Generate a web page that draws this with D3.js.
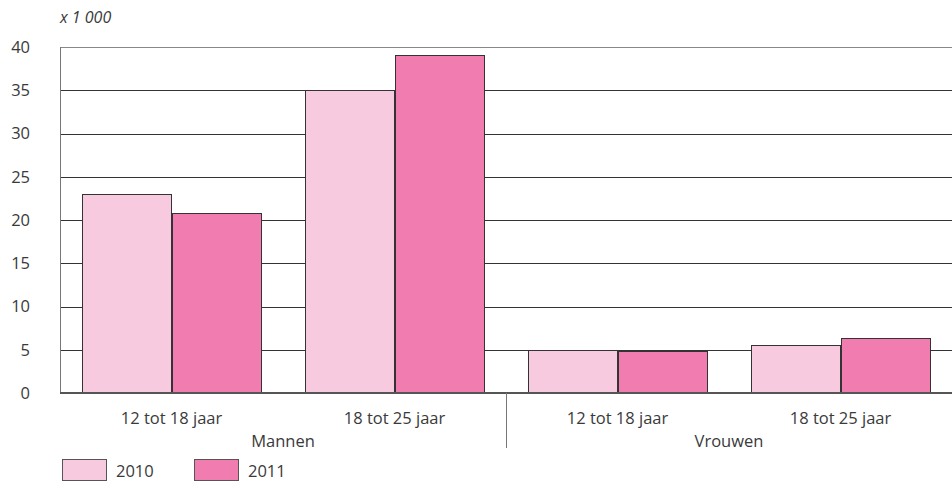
<!DOCTYPE html>
<html>
<head>
<meta charset="utf-8">
<script src="https://cdn.jsdelivr.net/npm/d3@7"></script>
<style>
  body { margin: 0; background: #fff; }
  svg { display: block; font-family: "Open Sans", "Noto Sans", sans-serif; }
</style>
</head>
<body>
<svg id="chart" width="952" height="483"></svg>
<script>
// Jongeren (x 1 000) per leeftijdsgroep en geslacht
const groups = ["Mannen", "Vrouwen"];
const ageClasses = ["12 tot 18 jaar", "18 tot 25 jaar"];
const years = ["2010", "2011"];
const values2010 = [23.0, 35.0, 5.0, 5.6];
const values2011 = [20.8, 39.1, 4.8, 6.4];
const yTicks = [0, 5, 10, 15, 20, 25, 30, 35, 40];
const colors = ["#f8cadf", "#f07cb0"];

const FS = 16.5;
const TXT = "#3a3a3a";

const svg = d3.select("#chart");
const margin = { left: 60, right: 0, top: 47, bottom: 90 };
const W = 952, H = 483;

const cats = [];
groups.forEach(g => ageClasses.forEach(a => cats.push(g + "|" + a)));
const series = [values2010, values2011];

const x = d3.scaleBand().domain(cats)
  .range([margin.left, W - margin.right])
  .paddingInner(0.2).paddingOuter(0.1);
const xs = d3.scaleBand().domain(years).range([0, x.bandwidth()]);
const y = d3.scaleLinear().domain([0, 40]).range([H - margin.bottom, margin.top]);

// gridlines
svg.append("g").selectAll("line").data(yTicks.filter(t => t > 0 && t < 40)).join("line")
  .attr("x1", margin.left).attr("x2", W)
  .attr("y1", d => Math.round(y(d)) + 0.5).attr("y2", d => Math.round(y(d)) + 0.5)
  .attr("stroke", "#333").attr("stroke-width", 1);
// top border
svg.append("line").attr("x1", margin.left).attr("x2", W)
  .attr("y1", Math.round(y(40)) + 0.5).attr("y2", Math.round(y(40)) + 0.5)
  .attr("stroke", "#888").attr("stroke-width", 1);

// bars
const barG = svg.append("g");
cats.forEach((c, i) => {
  years.forEach((yr, j) => {
    const v = series[j][i];
    barG.append("rect")
      .attr("x", Math.round(x(c) + xs(yr)) + 0.5)
      .attr("y", Math.round(y(v)) + 0.5)
      .attr("width", Math.round(xs.bandwidth()))
      .attr("height", Math.round(y(0)) - Math.round(y(v)))
      .attr("fill", colors[j])
      .attr("stroke", "#333").attr("stroke-width", 1);
  });
});

// left axis line
svg.append("line").attr("x1", margin.left + 0.5).attr("x2", margin.left + 0.5)
  .attr("y1", y(40)).attr("y2", y(0))
  .attr("stroke", "#777").attr("stroke-width", 1);
// baseline
svg.append("line").attr("x1", margin.left).attr("x2", W)
  .attr("y1", y(0)).attr("y2", y(0))
  .attr("stroke", "#555").attr("stroke-width", 2);

// y tick labels
const yAxis = d3.axisLeft(y).tickValues(yTicks).tickSize(0).tickPadding(0);
const yg = svg.append("g").attr("transform", "translate(30,0)").call(yAxis);
yg.select(".domain").remove();
yg.selectAll("text").attr("font-size", FS).attr("fill", TXT)
  .attr("font-family", "'Open Sans', sans-serif").attr("dy", "0.32em");

// unit label
svg.append("text").attr("x", 60).attr("y", 23)
  .attr("font-size", 16).attr("font-style", "italic").attr("fill", TXT)
  .text("x 1 000");

// category labels
const xAxis = d3.axisBottom(x).tickFormat(d => d.split("|")[1]).tickSize(0).tickPadding(0);
const xg = svg.append("g").attr("transform", `translate(0,${y(0) + 31})`).call(xAxis);
xg.select(".domain").remove();
xg.selectAll("text").attr("font-size", FS).attr("fill", TXT)
  .attr("font-family", "'Open Sans', sans-serif").attr("dy", 0);

// group labels and separator
groups.forEach((g, gi) => {
  const first = x(g + "|" + ageClasses[0]);
  const last = x(g + "|" + ageClasses[ageClasses.length - 1]) + x.bandwidth();
  svg.append("text").attr("x", (first + last) / 2).attr("y", y(0) + 54)
    .attr("text-anchor", "middle").attr("font-size", FS).attr("fill", TXT)
    .text(g);
});
const sepX = (x(groups[0] + "|" + ageClasses[1]) + x.bandwidth() + x(groups[1] + "|" + ageClasses[0])) / 2;
svg.append("line").attr("x1", Math.round(sepX) + 0.5).attr("x2", Math.round(sepX) + 0.5)
  .attr("y1", y(0)).attr("y2", y(0) + 55)
  .attr("stroke", "#777").attr("stroke-width", 1);

// legend
const legend = svg.append("g").attr("transform", "translate(62,459)");
years.forEach((yr, j) => {
  const lg = legend.append("g").attr("transform", `translate(${j * 132},0)`);
  lg.append("rect").attr("x", 0.5).attr("y", 0.5).attr("width", 44).attr("height", 21)
    .attr("fill", colors[j]).attr("stroke", "#555").attr("stroke-width", 1);
  lg.append("text").attr("x", 54).attr("y", 18).attr("font-size", FS).attr("fill", TXT).text(yr);
});
</script>
</body>
</html>
